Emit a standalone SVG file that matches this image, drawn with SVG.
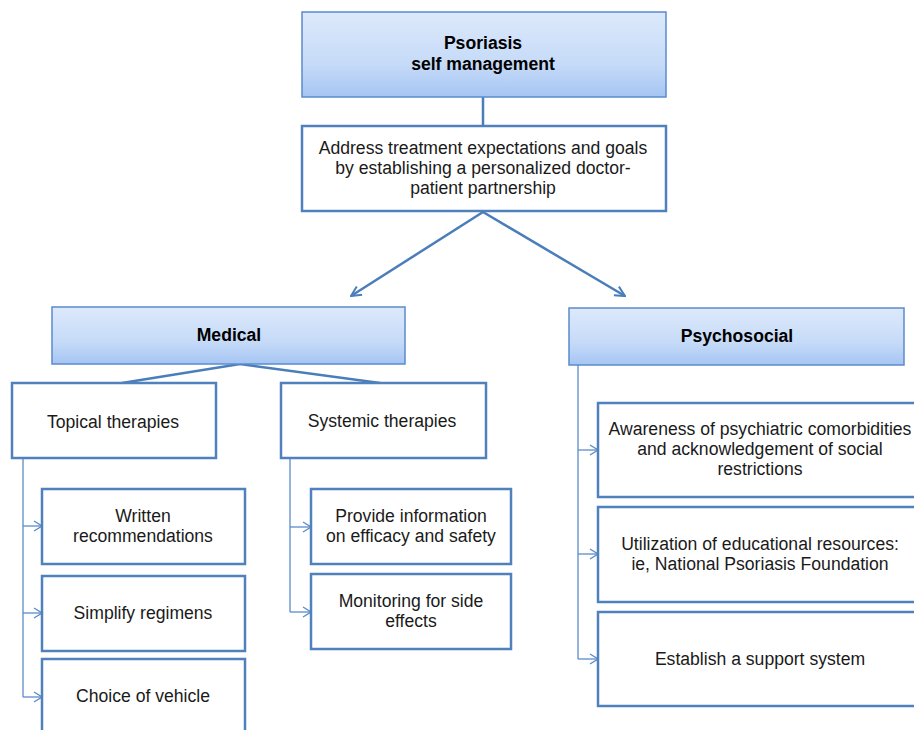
<svg xmlns="http://www.w3.org/2000/svg" width="914" height="730" viewBox="0 0 914 730">
<defs>
<linearGradient id="hdr" x1="0" y1="0" x2="0" y2="1">
<stop offset="0" stop-color="#dde9fb"/>
<stop offset="0.6" stop-color="#c6dbf8"/>
<stop offset="1" stop-color="#a6c5f3"/>
</linearGradient>
<marker id="big" viewBox="0 0 12 12" refX="11" refY="6" markerWidth="12" markerHeight="12" markerUnits="userSpaceOnUse" orient="auto">
<path d="M1,1 L11,6 L1,11" fill="none" stroke="#4a7ebb" stroke-width="2"/>
</marker>
<marker id="small" viewBox="0 0 10 12" refX="9" refY="6" markerWidth="10" markerHeight="12" markerUnits="userSpaceOnUse" orient="auto">
<path d="M1,1 L9,6 L1,11" fill="none" stroke="#5a8ccb" stroke-width="1.3"/>
</marker>
</defs>
<style>
.hdr{fill:url(#hdr);stroke:#5b8bcb;stroke-width:1.5}
.box{fill:#fff;stroke:#4f81bd;stroke-width:2.5}
.t{font-family:"Liberation Sans",Arial,sans-serif;font-size:17.6px;fill:#1a1a1a;text-anchor:middle;dominant-baseline:central}
.b{font-weight:bold;fill:#000}
.c{fill:none;stroke:#4a7ebb;stroke-width:2.5}
.thin{fill:none;stroke:#5a8ccb;stroke-width:1.3}
</style>
<g id="connectors">
<line class="c" x1="483" y1="97" x2="483" y2="126"/>
<line class="c" x1="483" y1="212" x2="351" y2="296" marker-end="url(#big)"/>
<line class="c" x1="483" y1="212" x2="625" y2="296" marker-end="url(#big)"/>
<polyline class="c" points="122,383 240,364 380,383"/>
<polyline class="thin" points="23,458 23,697"/>
<line class="thin" x1="23" y1="526" x2="42" y2="526" marker-end="url(#small)"/>
<line class="thin" x1="23" y1="613" x2="42" y2="613" marker-end="url(#small)"/>
<line class="thin" x1="23" y1="697" x2="42" y2="697" marker-end="url(#small)"/>
<polyline class="thin" points="290,458 290,612"/>
<line class="thin" x1="290" y1="527" x2="311" y2="527" marker-end="url(#small)"/>
<line class="thin" x1="290" y1="612" x2="311" y2="612" marker-end="url(#small)"/>
<polyline class="thin" points="578,365 578,659"/>
<line class="thin" x1="578" y1="450" x2="598" y2="450" marker-end="url(#small)"/>
<line class="thin" x1="578" y1="554" x2="598" y2="554" marker-end="url(#small)"/>
<line class="thin" x1="578" y1="659" x2="598" y2="659" marker-end="url(#small)"/>
</g>
<g id="root">
<rect class="hdr" x="302" y="12" width="364" height="85"/>
<text class="t b" x="483" y="43">Psoriasis</text>
<text class="t b" x="483" y="64">self management</text>
</g>
<g id="goals">
<rect class="box" x="302" y="126" width="364" height="85"/>
<text class="t" x="483" y="148">Address treatment expectations and goals</text>
<text class="t" x="483" y="168">by establishing a personalized doctor-</text>
<text class="t" x="483" y="188">patient partnership</text>
</g>
<g id="medical">
<rect class="hdr" x="52" y="307" width="353" height="57"/>
<text class="t b" x="229" y="335">Medical</text>
</g>
<g id="psychosocial">
<rect class="hdr" x="569" y="308" width="335" height="57"/>
<text class="t b" x="737" y="336">Psychosocial</text>
</g>
<g id="topical">
<rect class="box" x="12" y="383" width="204" height="75"/>
<text class="t" x="113" y="422">Topical therapies</text>
</g>
<g id="systemic">
<rect class="box" x="281" y="383" width="205" height="75"/>
<text class="t" x="382" y="421">Systemic therapies</text>
</g>
<g id="written">
<rect class="box" x="42" y="489" width="203" height="75"/>
<text class="t" x="143" y="516">Written</text>
<text class="t" x="143" y="536">recommendations</text>
</g>
<g id="simplify">
<rect class="box" x="42" y="576" width="203" height="75"/>
<text class="t" x="143" y="613">Simplify regimens</text>
</g>
<g id="vehicle">
<rect class="box" x="42" y="659" width="203" height="80"/>
<text class="t" x="143" y="696">Choice of vehicle</text>
</g>
<g id="efficacy">
<rect class="box" x="311" y="489" width="200" height="75"/>
<text class="t" x="411" y="516">Provide information</text>
<text class="t" x="411" y="536">on efficacy and safety</text>
</g>
<g id="monitoring">
<rect class="box" x="311" y="574" width="200" height="75"/>
<text class="t" x="411" y="601">Monitoring for side</text>
<text class="t" x="411" y="621">effects</text>
</g>
<g id="awareness">
<rect class="box" x="598" y="403" width="324" height="94"/>
<text class="t" x="760" y="429">Awareness of psychiatric comorbidities</text>
<text class="t" x="760" y="449">and acknowledgement of social</text>
<text class="t" x="760" y="469">restrictions</text>
</g>
<g id="education">
<rect class="box" x="598" y="507" width="324" height="95"/>
<text class="t" x="760" y="544">Utilization of educational resources:</text>
<text class="t" x="760" y="564">ie, National Psoriasis Foundation</text>
</g>
<g id="support">
<rect class="box" x="598" y="612" width="324" height="94"/>
<text class="t" x="760" y="659">Establish a support system</text>
</g>
</svg>
